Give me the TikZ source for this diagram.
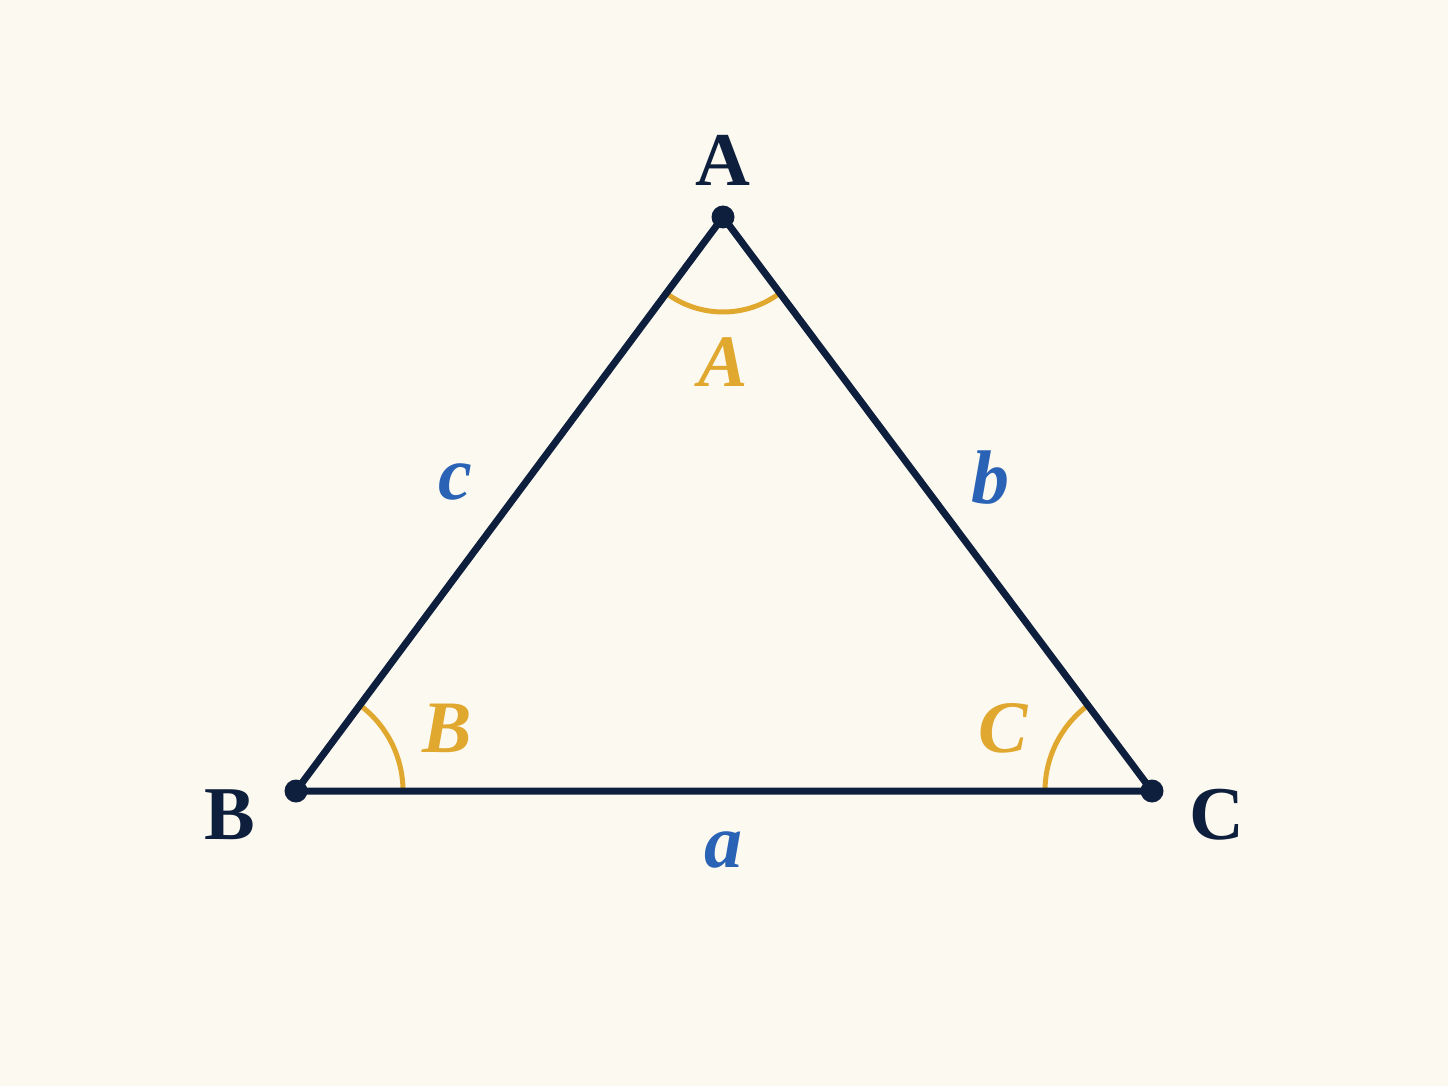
\documentclass[tikz,border=0pt]{standalone}
\usepackage{fontspec}
\setmainfont{Liberation Serif}
\definecolor{bg}{HTML}{FCF9F0}
\definecolor{navy}{HTML}{0D1F3C}
\definecolor{gold}{HTML}{E0A82E}
\definecolor{sideblue}{HTML}{2A62B5}
\tikzset{
  edge/.style={draw=navy, line width=3.5pt, line join=round},
  anglearc/.style={draw=gold, line width=2.5pt},
  vertexlbl/.style={text=navy, font=\fontsize{38}{40}\selectfont\bfseries, inner sep=0pt},
  sidelbl/.style={text=sideblue, font=\fontsize{38}{40}\selectfont\bfseries\itshape, inner sep=0pt},
  anglelbl/.style={text=gold, font=\fontsize{37}{40}\selectfont\bfseries\itshape, inner sep=0pt},
  vdot/.style={circle, fill=navy, inner sep=0pt, minimum size=11.5pt}
}
\begin{document}
\begin{tikzpicture}[x=0.5pt, y=-0.5pt]
\fill[bg] (0,0) rectangle (1448,1086);
\useasboundingbox (0,0) rectangle (1448,1086);
\coordinate (A) at (723,217);
\coordinate (B) at (296,791);
\coordinate (C) at (1152,791);
% angle arcs
\draw[anglearc] ([shift={(233.35:47.5pt)}]A) arc[start angle=233.35, end angle=306.65, radius=47.5pt];
\draw[anglearc] ([shift={(0:53.5pt)}]B) arc[start angle=0, end angle=53.35, radius=53.5pt];
\draw[anglearc] ([shift={(126.65:53.5pt)}]C) arc[start angle=126.65, end angle=180, radius=53.5pt];
% triangle
\draw[edge] (A) -- (B) -- (C) -- cycle;
\node[vdot] (dA) at (A) {};
\node[vdot] (dB) at (B) {};
\node[vdot] (dC) at (C) {};
% vertex labels
\node[vertexlbl] (lA) at (723,160) {A};
\node[vertexlbl] (lB) at (230,815) {B};
\node[vertexlbl] (lC) at (1217,815) {C};
% side labels
\node[sidelbl] (sc) at (455,482) {c};
\node[sidelbl] (sb) at (990,478) {b};
\node[sidelbl] (sa) at (723,850) {a};
% angle labels
\node[anglelbl] (aA) at (723,362) {A};
\node[anglelbl] (aB) at (447,728) {B};
\node[anglelbl] (aC) at (1003,728) {C};
\end{tikzpicture}
\end{document}
